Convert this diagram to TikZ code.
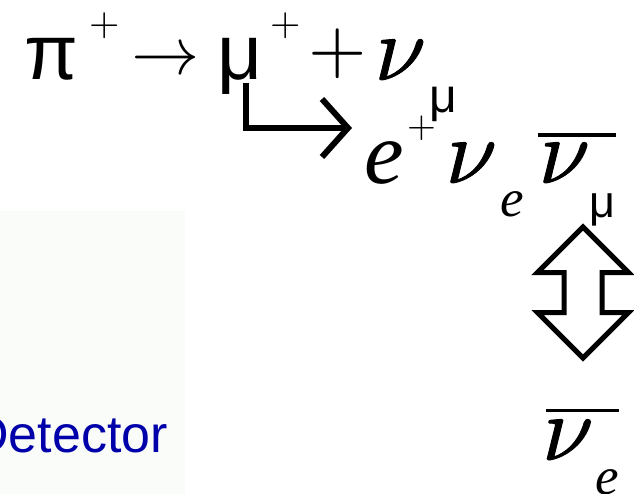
\documentclass[tikz,border=0pt]{standalone}
\usepackage{fontspec}
\setmainfont{Liberation Sans}
\newfontfamily\greekit{Liberation Serif}
\newfontfamily\symfont{Latin Modern Math}
\newfontfamily\nufont{Latin Modern Math}[FakeBold=1]
\usetikzlibrary{arrows.meta}
\definecolor{detblue}{RGB}{0,0,170}
\definecolor{detbg}{RGB}{250,252,249}
\tikzset{
  upr/.style={inner sep=0pt, anchor=base, font=\fontsize{#1}{#1}\selectfont},
  itl/.style={inner sep=0pt, anchor=base, font=\fontsize{#1}{#1}\selectfont\greekit\itshape},
  nu/.style={inner sep=0pt, anchor=base, font=\fontsize{#1}{#1}\selectfont\nufont},
  opr/.style={inner sep=0pt, anchor=center, font=\fontsize{#1}{#1}\selectfont\symfont},
  bent/.style={line width=6pt, -{Straight Barb[length=26pt, width=58pt, line width=6pt]}},
  bar/.style={line width=3.5pt},
  swap/.style={line width=5pt, line join=miter}
}

\begin{document}
\begin{tikzpicture}[x=1pt, y=-1pt]
    \useasboundingbox (0,0) rectangle (634,494);
    \fill[detbg] (0,211) rectangle (185,494);
    \node[upr=52, anchor=base east, text=detblue] (det) at (168,452) {Detector};

    % pion decay
    \node[upr=78] (pion) at (51,80) {π};
    \node[opr=39] (pionchg) at (104.5,26) {+};
    \node[opr=68] (decay) at (165.5,57.5) {→};
    \node[upr=78] (muon) at (240,80) {μ};
    \node[opr=39] (muonchg) at (285.5,26) {+};
    \node[opr=75] (plus) at (338,54) {+};
    \node[nu=92] (numu) at (397.5,80) {𝜈};
    \node[upr=48] (numuidx) at (443.5,113) {μ};

    % muon decay
    \coordinate (tip) at (352,128);
    \node[itl=89] (posi) at (384.5,184) {e};
    \node[opr=37] (posichg) at (422,128) {+};
    \node[nu=92] (nue) at (468.5,183) {𝜈};
    \node[itl=53] (nueidx) at (512,217) {e};
    \node[nu=92] (antinumu) at (561.5,183) {𝜈};
    \node[upr=45] (antinumuidx) at (602.5,218) {μ};
    \draw[bar] (538,135) -- (616,135);
    \draw[bent] ([xshift=6pt, yshift=-3pt]muon.base) |- (tip);

    % oscillation
    \draw[swap] (583,227) -- (537.5,272.5) -- (564,272.5) -- (564,312.5) -- (537.5,312.5)
      -- (583,358) -- (628.5,312.5) -- (602,312.5) -- (602,272.5) -- (628.5,272.5) -- cycle;
    \node[nu=92] (antinue) at (565,460) {𝜈};
    \node[itl=53] (antinueidx) at (607.5,494) {e};
    \draw[bar] (546,410.5) -- (619,410.5);
  \end{tikzpicture}
\end{document}
